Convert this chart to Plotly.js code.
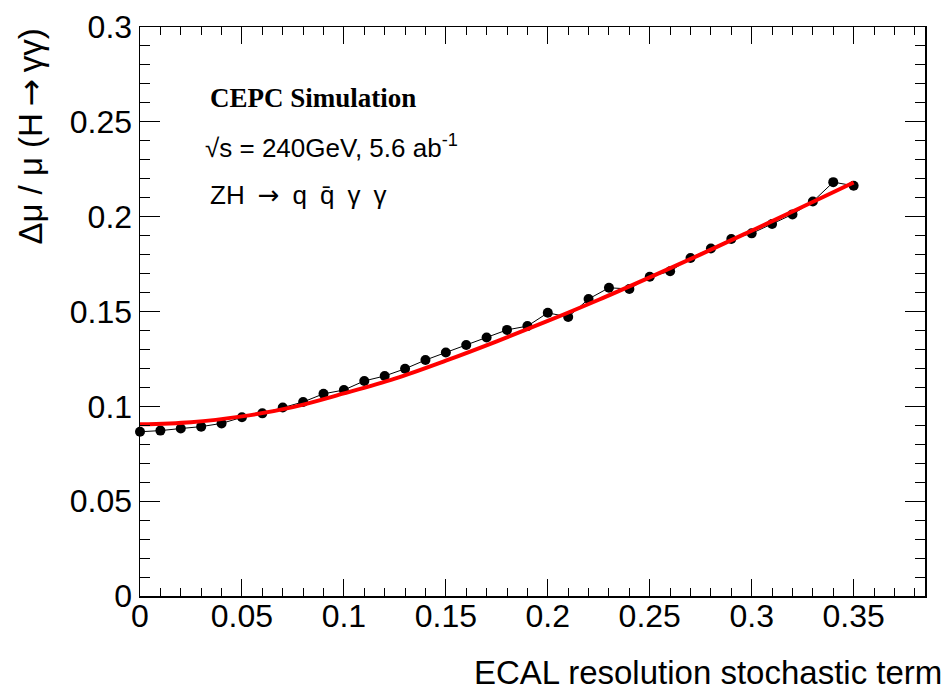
<!DOCTYPE html>
<html>
<head>
<meta charset="utf-8">
<script src="https://cdn.plot.ly/plotly-3.0.1.min.js"></script>
<style>html,body{margin:0;padding:0;background:#fff;}</style>
</head>
<body>
<div id="chart" style="width:943px;height:691px;"></div>
<script>
// Data
const stochTerm = [0,0.01,0.02,0.03,0.04,0.05,0.06,0.07,0.08,0.09,0.10,0.11,0.12,0.13,0.14,0.15,0.16,0.17,0.18,0.19,0.20,0.21,0.22,0.23,0.24,0.25,0.26,0.27,0.28,0.29,0.30,0.31,0.32,0.33,0.34,0.35];
const deltaMu = [0.0866,0.0872,0.0883,0.0893,0.0910,0.0942,0.0963,0.0994,0.1023,0.1066,0.1086,0.1134,0.1160,0.1198,0.1244,0.1284,0.1323,0.1363,0.1403,0.1423,0.1493,0.1471,0.1566,0.1625,0.1619,0.1683,0.1712,0.1782,0.1832,0.1882,0.1912,0.1961,0.2012,0.2080,0.2182,0.2163];
const fitX = [0,0.025,0.05,0.075,0.10,0.125,0.15,0.175,0.20,0.225,0.25,0.275,0.30,0.325,0.35];
const fitY = [0.0905,0.0916,0.0947,0.0996,0.1068,0.1146,0.1241,0.1343,0.1450,0.1562,0.1680,0.1801,0.1926,0.2052,0.2180];
const xTicks = [0,0.05,0.1,0.15,0.2,0.25,0.3,0.35];
const xTickText = ['0','0.05','0.1','0.15','0.2','0.25','0.3','0.35'];
const yTicks = [0,0.05,0.1,0.15,0.2,0.25,0.3];
const yTickText = ['0','0.05','0.1','0.15','0.2','0.25','0.3'];

const traces = [
  {x: stochTerm, y: deltaMu, mode: 'lines+markers', type: 'scatter',
   line: {color: '#000', width: 1}, marker: {color: '#000', size: 10}, cliponaxis: false, showlegend: false},
  {x: fitX, y: fitY, mode: 'lines', type: 'scatter',
   line: {color: '#ff0000', width: 4, shape: 'spline'}, showlegend: false}
];

const FAM = 'Liberation Sans, Arial, sans-serif';
const ARROW = '<span style="font-family:DejaVu Sans">→</span>';
const tickFont = {family: FAM, size: 32, color: '#000'};
const layout = {
  width: 943, height: 691,
  margin: {l: 140, r: 18, t: 27, b: 95},
  paper_bgcolor: '#fff', plot_bgcolor: '#fff',
  font: tickFont,
  xaxis: {range: [0, 0.385], showgrid: false, zeroline: false, showline: true, linecolor: '#000', linewidth: 1.5,
    mirror: 'allticks', ticks: 'inside', ticklen: 17, tickwidth: 1, tickcolor: '#000',
    tickvals: xTicks, ticktext: xTickText, tickfont: tickFont, ticklabelstandoff: -9,
    minor: {dtick: 0.01, ticklen: 8, tickwidth: 1, tickcolor: '#000', ticks: 'inside', showgrid: false}},
  yaxis: {range: [0, 0.3], showgrid: false, zeroline: false, showline: true, linecolor: '#000', linewidth: 1.5,
    mirror: 'allticks', ticks: 'inside', ticklen: 20, tickwidth: 1, tickcolor: '#000',
    tickvals: yTicks, ticktext: yTickText, tickfont: tickFont, ticklabelstandoff: 0,
    minor: {dtick: 0.01, ticklen: 10, tickwidth: 1, tickcolor: '#000', ticks: 'inside', showgrid: false}},
  annotations: [
    {xref: 'paper', yref: 'paper', x: 1.024, y: -0.098, xanchor: 'right', yanchor: 'top', showarrow: false,
     text: 'ECAL resolution stochastic term', font: {family: FAM, size: 33, color: '#000'}},
    {xref: 'paper', yref: 'paper', x: -0.168, y: 1.0, xanchor: 'left', yanchor: 'top', showarrow: false, textangle: -90,
     text: 'Δμ / μ (H\u2009' + ARROW + '\u2009γγ)', font: {family: FAM, size: 33, color: '#000'}},
    {xref: 'paper', yref: 'paper', x: 0.086, y: 0.876, xanchor: 'left', yanchor: 'middle', showarrow: false,
     text: '<b>CEPC Simulation</b>', font: {family: 'Liberation Serif, Times New Roman, serif', size: 27, color: '#000'}},
    {xref: 'paper', yref: 'paper', x: 0.08, y: 0.79, xanchor: 'left', yanchor: 'middle', showarrow: false,
     text: '√s = 240GeV, 5.6 ab<sup>-1</sup>', font: {family: FAM, size: 26, color: '#000'}},
    {xref: 'paper', yref: 'paper', x: 0.086, y: 0.705, xanchor: 'left', yanchor: 'middle', showarrow: false,
     text: 'ZH\u2002' + ARROW + '\u2002q\u2002q̄\u2002γ\u2002γ', font: {family: FAM, size: 26, color: '#000'}}
  ]
};
Plotly.newPlot('chart', traces, layout, {displayModeBar: false, staticPlot: true});
</script>
</body>
</html>
